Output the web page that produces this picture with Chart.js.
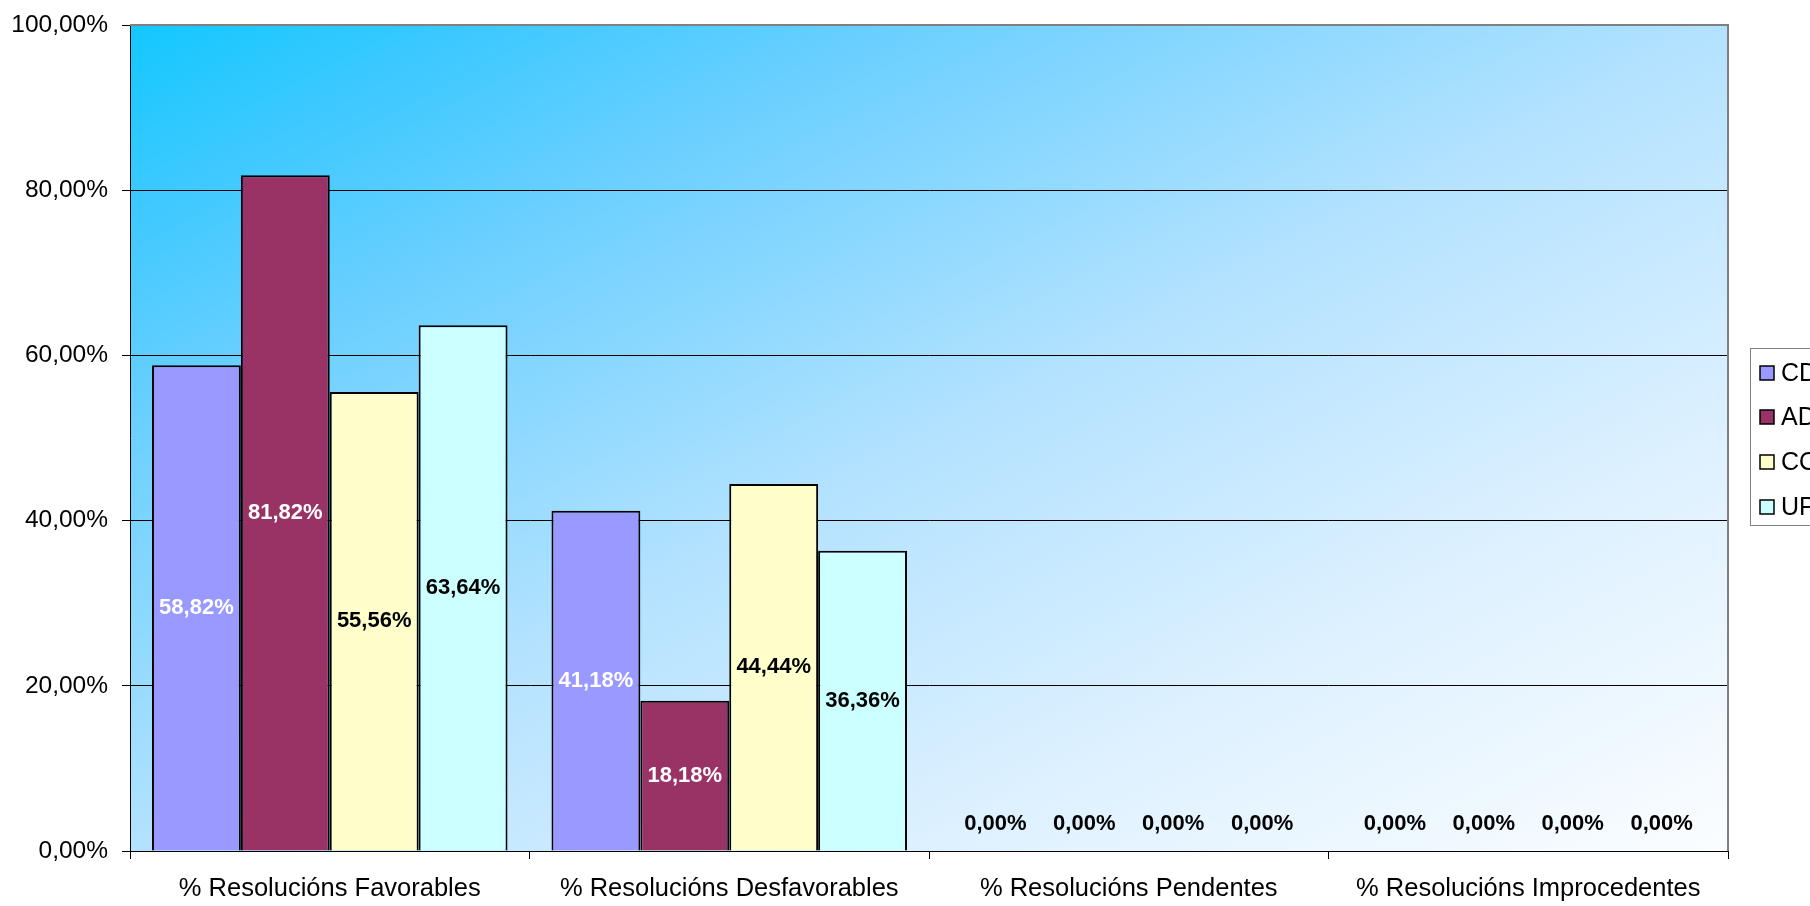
<!DOCTYPE html>
<html>
<head>
<meta charset="utf-8">
<script src="https://cdn.jsdelivr.net/npm/chart.js@4/dist/chart.umd.min.js"></script>
<style>
html,body{margin:0;padding:0;background:#fff;overflow:hidden;}
#c{display:block;}
</style>
</head>
<body>
<canvas id="c" width="1810" height="906"></canvas>
<script>
const categories = ['% Resolucións Favorables', '% Resolucións Desfavorables', '% Resolucións Pendentes', '% Resolucións Improcedentes'];
const seriesNames = ['CD', 'AD', 'CO', 'UP'];
const cdValues = [58.82, 41.18, 0, 0];
const adValues = [81.82, 18.18, 0, 0];
const coValues = [55.56, 44.44, 0, 0];
const upValues = [63.64, 36.36, 0, 0];
const yTicks = [0, 20, 40, 60, 80, 100];

const fills = ['#9999FF', '#993366', '#FFFFCC', '#CCFFFF'];
const labelColors = ['#FFFFFF', '#FFFFFF', '#000000', '#000000'];
const FONT = "'Liberation Sans', Arial, sans-serif";

function fmt(v) { return v.toFixed(2).replace('.', ',') + '%'; }

const bgPlugin = {
  id: 'bg',
  beforeDraw(chart) {
    const a = chart.chartArea, ctx = chart.ctx;
    ctx.save();
    ctx.translate(a.left, a.top);
    ctx.scale(a.right - a.left, a.bottom - a.top);
    const g = ctx.createLinearGradient(0, 0, 1, 1);
    g.addColorStop(0, '#12c8ff');
    g.addColorStop(0.12, '#40c9ff');
    g.addColorStop(0.25, '#6dd0ff');
    g.addColorStop(0.5, '#b3e2ff');
    g.addColorStop(0.75, '#def1ff');
    g.addColorStop(1, '#fbfdff');
    ctx.fillStyle = g;
    ctx.fillRect(0, 0, 1, 1);
    ctx.restore();
  },
  afterDraw(chart) {
    const a = chart.chartArea, ctx = chart.ctx;
    ctx.save();
    ctx.strokeStyle = '#808080';
    ctx.lineWidth = 2;
    ctx.beginPath();
    ctx.moveTo(a.left, a.top);
    ctx.lineTo(a.right, a.top);
    ctx.lineTo(a.right, a.bottom);
    ctx.stroke();
    // legend
    const lx = 1750.5, ly = 348.5;
    ctx.fillStyle = '#ffffff';
    ctx.fillRect(lx, ly, 120, 177);
    ctx.strokeStyle = '#808080';
    ctx.lineWidth = 1;
    ctx.strokeRect(lx, ly, 120, 177);
    const ys = [373, 417, 462, 507];
    ctx.font = '25px ' + FONT;
    ctx.textBaseline = 'middle';
    ctx.textAlign = 'left';
    for (let i = 0; i < seriesNames.length; i++) {
      ctx.fillStyle = fills[i];
      ctx.fillRect(1760, ys[i] - 7, 14, 14);
      ctx.strokeStyle = '#000';
      ctx.lineWidth = 1.5;
      ctx.strokeRect(1760, ys[i] - 7, 14, 14);
      ctx.fillStyle = '#000';
      ctx.fillText(seriesNames[i], 1781, ys[i] + 1);
    }
    ctx.restore();
  }
};

const labelPlugin = {
  id: 'vals',
  afterDatasetsDraw(chart) {
    const ctx = chart.ctx;
    ctx.save();
    ctx.font = 'bold 22px ' + FONT;
    ctx.textAlign = 'center';
    ctx.textBaseline = 'middle';
    chart.data.datasets.forEach((ds, di) => {
      const meta = chart.getDatasetMeta(di);
      meta.data.forEach((el, i) => {
        const v = ds.data[i];
        let y;
        if (v === 0) { y = el.base - 27; ctx.fillStyle = '#000'; }
        else { y = (el.y + el.base) / 2; ctx.fillStyle = labelColors[di]; }
        ctx.fillText(fmt(v), el.x, y);
      });
    });
    ctx.restore();
  }
};

const seriesData = [cdValues, adValues, coValues, upValues];

new Chart(document.getElementById('c'), {
  type: 'bar',
  data: {
    labels: categories,
    datasets: seriesNames.map((n, i) => ({
      label: n,
      data: seriesData[i],
      backgroundColor: fills[i],
      borderColor: '#000',
      borderWidth: 2,
      categoryPercentage: 0.89,
      barPercentage: 1.0
    }))
  },
  options: {
    responsive: false,
    animation: false,
    devicePixelRatio: 1,
    layout: { padding: { top: 25, right: 82, left: 0, bottom: 0 } },
    plugins: { legend: { display: false }, tooltip: { enabled: false } },
    scales: {
      x: {
        offset: true,
        grid: { display: true, drawOnChartArea: false, drawTicks: true, tickLength: 8, color: '#000', offset: true },
        border: { color: '#000', width: 1 },
        ticks: { font: { family: FONT, size: 25.5 }, color: '#000', padding: 15, maxRotation: 0, autoSkip: false },
        afterFit(s) { s.height = 55; }
      },
      y: {
        min: 0, max: 100,
        afterBuildTicks(s) { s.ticks = yTicks.map(v => ({ value: v })); },
        grid: { color: '#000', lineWidth: 1, tickLength: 8 },
        border: { color: '#000', width: 1 },
        ticks: { font: { family: FONT, size: 24.5 }, color: '#000', padding: 14, callback: v => fmt(v) },
        afterFit(s) { s.width = 130; s.paddingTop = 5; s.paddingBottom = 5; }
      }
    }
  },
  plugins: [bgPlugin, labelPlugin]
});
</script>
</body>
</html>
